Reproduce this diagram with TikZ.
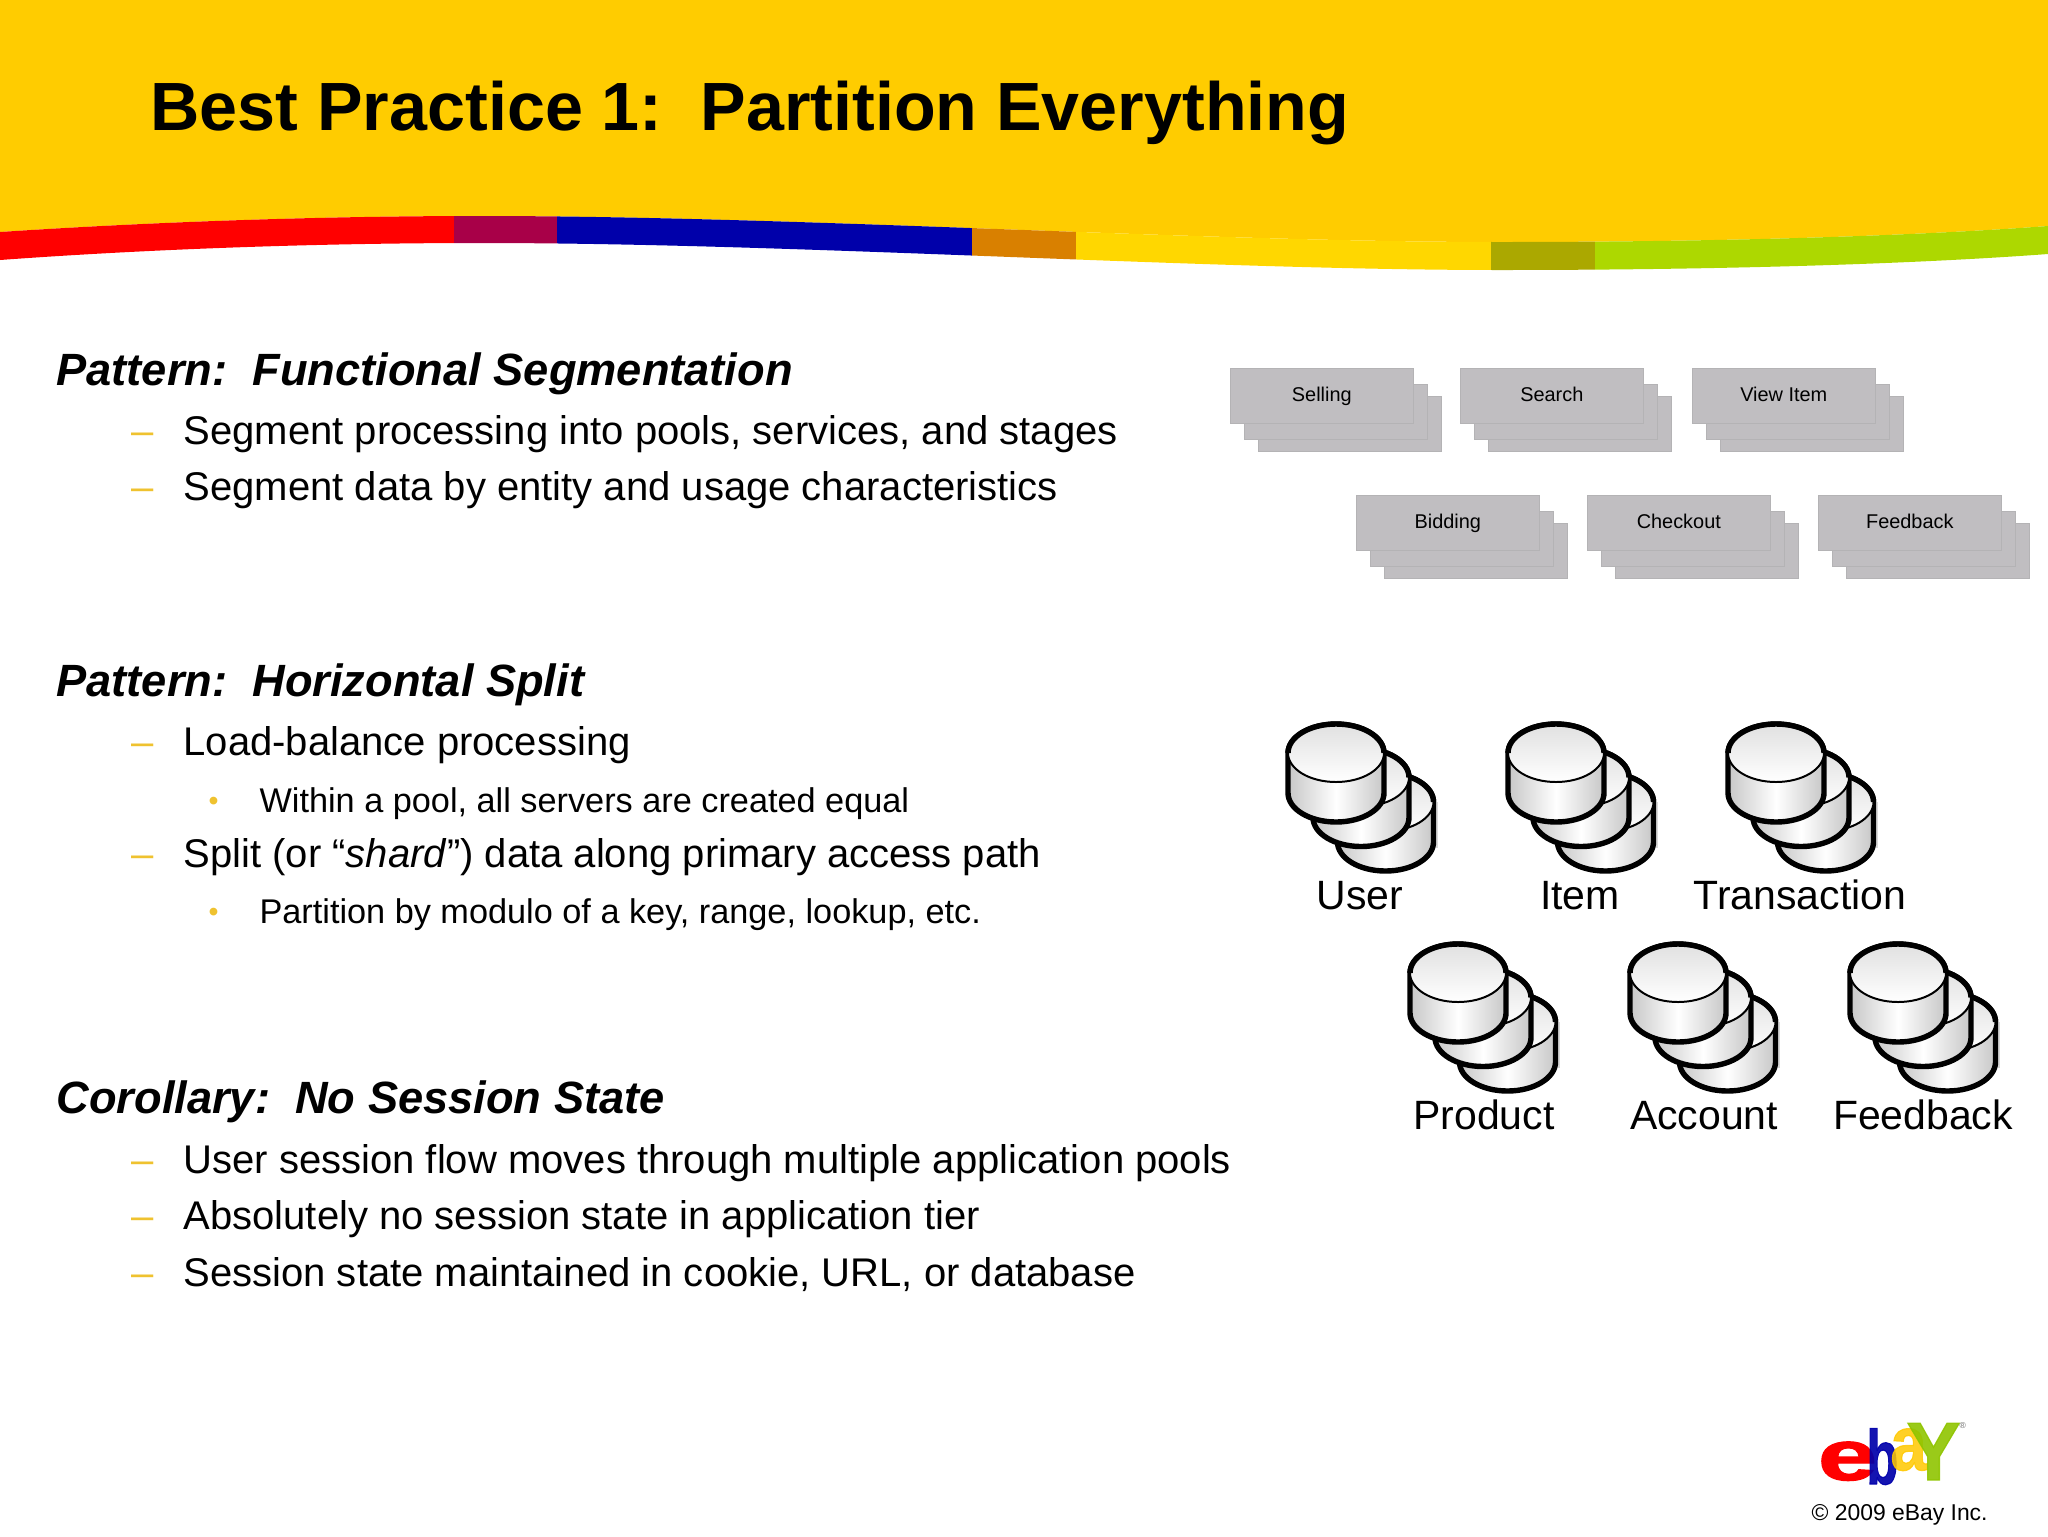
\documentclass[tikz,border=0pt]{standalone}
\usepackage{fontspec}
\setmainfont{Liberation Sans}
\newfontfamily\logofont[FakeBold=1.6]{Liberation Sans Bold}
\definecolor{headeryellow}{HTML}{FFCC00}
\definecolor{bandred}{HTML}{FF0000}
\definecolor{bandmaroon}{HTML}{A80048}
\definecolor{bandblue}{HTML}{0000AA}
\definecolor{bandorange}{HTML}{D98000}
\definecolor{bandyellow}{HTML}{FFD700}
\definecolor{bandolive}{HTML}{ABA800}
\definecolor{bandgreen}{HTML}{ADD800}
\definecolor{boxgrey}{HTML}{C0BEC1}
\definecolor{markyellow}{HTML}{EFC22F}
\definecolor{logoyellow}{HTML}{FFC800}
\definecolor{logogreen}{HTML}{8FC400}
\tikzset{
    title/.style={anchor=base west,inner sep=0pt,font=\fontsize{24}{28}\selectfont\bfseries},
    headline/.style={anchor=base west,inner sep=0pt,font=\fontsize{15.9}{19}\selectfont\bfseries\itshape},
    item/.style={anchor=base west,inner sep=0pt,font=\fontsize{14.07}{17}\selectfont},
    subitem/.style={anchor=base west,inner sep=0pt,font=\fontsize{12.05}{14}\selectfont},
    dashmark/.style={anchor=base west,inner sep=0pt,text=markyellow,font=\fontsize{14.07}{17}\selectfont},
    dotmark/.style={anchor=base west,inner sep=0pt,text=markyellow,font=\fontsize{10}{12}\selectfont},
    stackbox/.style={anchor=north west,inner sep=0pt,fill=boxgrey,draw=boxgrey!94!black,line width=0.25pt,
        minimum width=64.3pt,minimum height=19.3pt,text height=5.2pt,text depth=1.5pt,font=\fontsize{7}{8}\selectfont},
    dbname/.style={anchor=base,inner sep=0pt,font=\fontsize{14.4}{17}\selectfont},
    logoletter/.style={anchor=base west,inner sep=0pt,transform shape},
}
% three grey sheets, front one carries the text
\newcommand{\srvstack}[4]{
    \begin{scope}[shift={(#1,#2)}]
    \node[stackbox] (#3c) at (28,28) {};
    \node[stackbox] (#3b) at (14,16) {};
    \node[stackbox] (#3) at (0,0) {#4};
    \end{scope}
}
% one disk, centre of the top ellipse at the shift
\newcommand{\dbdisk}[2]{
    \begin{scope}[shift={(#1,#2)}]
    \draw[line width=1.9pt,left color=black!22,right color=black!22,middle color=white]
        (-48,0) -- (-48,40) .. controls (-48,56) and (-26.5,69) .. (0,69)
        .. controls (26.5,69) and (48,56) .. (48,40) -- (48,0)
        .. controls (48,-16) and (26.5,-29) .. (0,-29)
        .. controls (-26.5,-29) and (-48,-16) .. (-48,0) -- cycle;
    \draw[line width=0.7pt,top color=black!12,bottom color=white] (0,0) ellipse [x radius=48,y radius=29];
    \draw[line width=1.9pt] (-48,0) .. controls (-48,-16) and (-26.5,-29) .. (0,-29)
        .. controls (26.5,-29) and (48,-16) .. (48,0);
    \end{scope}
}
\newcommand{\dbstack}[5]{
    \begin{scope}[shift={(#1,#2)}]
    \fill[black!15] (52,49) rectangle (102,95);
    \dbdisk{49.5}{49}
    \dbdisk{25}{24.5}
    \dbdisk{0}{0}
    \node[dbname] (#3) at (#5,156) {#4};
    \end{scope}
}

\begin{document}
\begin{tikzpicture}[x=0.3516pt,y=-0.3516pt]
    \useasboundingbox (0,0) rectangle (2048,1536);
    % header and colour band
    \fill[headeryellow] (0,0) -- (2048,0) -- (2048,226)
        .. controls (1900,237) and (1700,242) .. (1500,242)
        .. controls (1200,242) and (800,216) .. (480,216)
        .. controls (320,216) and (150,222) .. (0,232) -- cycle;
    \begin{scope}
    \clip (0,232) .. controls (150,222) and (320,216) .. (480,216)
        .. controls (800,216) and (1200,242) .. (1500,242)
        .. controls (1700,242) and (1900,237) .. (2048,226)
        -- (2048,254) .. controls (1900,265) and (1700,270) .. (1500,270)
        .. controls (1200,270) and (800,243) .. (480,243)
        .. controls (320,243) and (150,249) .. (0,260) -- cycle;
    \fill[bandred] (0,200) rectangle (454,300);
    \fill[bandmaroon] (454,200) rectangle (557,300);
    \fill[bandblue] (557,200) rectangle (972,300);
    \fill[bandorange] (972,200) rectangle (1076,300);
    \fill[bandyellow] (1076,200) rectangle (1491,300);
    \fill[bandolive] (1491,200) rectangle (1595,300);
    \fill[bandgreen] (1595,200) rectangle (2048,300);
    \end{scope}
    \node[title] (slidetitle) at (150,130) {Best Practice 1:\ \ Partition Everything};

    % left column
    \node[headline] (segment) at (56,385) {Pattern:\ \ Functional Segmentation};
    \node[dashmark] (d1) at (131,444) {–};
    \node[item] (i1) at (183,444) {Segment processing into pools, services, and stages};
    \node[dashmark] (d2) at (131,500) {–};
    \node[item] (i2) at (183,500) {Segment data by entity and usage characteristics};

    \node[headline] (split) at (56,696) {Pattern:\ \ Horizontal Split};
    \node[dashmark] (d3) at (131,755) {–};
    \node[item] (i3) at (183,755) {Load-balance processing};
    \node[dotmark] (b1) at (208,810) {•};
    \node[subitem] (s1) at (259,812) {Within a pool, all servers are created equal};
    \node[dashmark] (d4) at (131,867) {–};
    \node[item] (i4) at (183,867) {Split (or “\textit{shard}”) data along primary access path};
    \node[dotmark] (b2) at (208,921) {•};
    \node[subitem] (s2) at (259,923) {Partition by modulo of a key, range, lookup, etc.};

    \node[headline] (corollary) at (56,1113) {Corollary:\ \ No Session State};
    \node[dashmark] (d5) at (131,1173) {–};
    \node[item] (i5) at (183,1173) {User session flow moves through multiple application pools};
    \node[dashmark] (d6) at (131,1229) {–};
    \node[item] (i6) at (183,1229) {Absolutely no session state in application tier};
    \node[dashmark] (d7) at (131,1286) {–};
    \node[item] (i7) at (183,1286) {Session state maintained in cookie, URL, or database};

    % pools
    \srvstack{1230}{368}{selling}{Selling}
    \srvstack{1460}{368}{search}{Search}
    \srvstack{1692}{368}{viewitem}{View Item}
    \srvstack{1356}{495}{bidding}{Bidding}
    \srvstack{1587}{495}{checkout}{Checkout}
    \srvstack{1818}{495}{feedbackpool}{Feedback}

    % databases
    \dbstack{1336}{753}{user}{User}{24}
    \dbstack{1556}{753}{itemdb}{Item}{24}
    \dbstack{1776}{753}{transaction}{Transaction}{24}
    \dbstack{1458}{973}{product}{Product}{26}
    \dbstack{1678}{973}{account}{Account}{26}
    \dbstack{1898}{973}{feedbackdb}{Feedback}{25}

    % logo
    \node[logoletter,text=bandred,xscale=1.5,font=\fontsize{25}{26}\selectfont\logofont] (logoe) at (1817,1480) {e};
    \node[logoletter,text=bandblue,xscale=.68,opacity=.92,font=\fontsize{27}{29}\selectfont\logofont] (logob) at (1866,1484) {b};
    \node[logoletter,text=logoyellow,xscale=.85,opacity=.85,font=\fontsize{27}{29}\selectfont\logofont] (logoa) at (1890,1470) {a};
    \node[logoletter,text=logogreen,xscale=.98,opacity=.9,font=\fontsize{29}{31}\selectfont\logofont] (logoy) at (1906,1480) {Y};
    \node[anchor=base west,inner sep=0pt,text=black!60,font=\fontsize{3}{4}\selectfont] (logor) at (1959,1428) {®};
    \node[anchor=base west,inner sep=0pt,font=\fontsize{8.05}{10}\selectfont] (copyright) at (1811,1520) {© 2009 eBay Inc.};
\end{tikzpicture}
\end{document}
